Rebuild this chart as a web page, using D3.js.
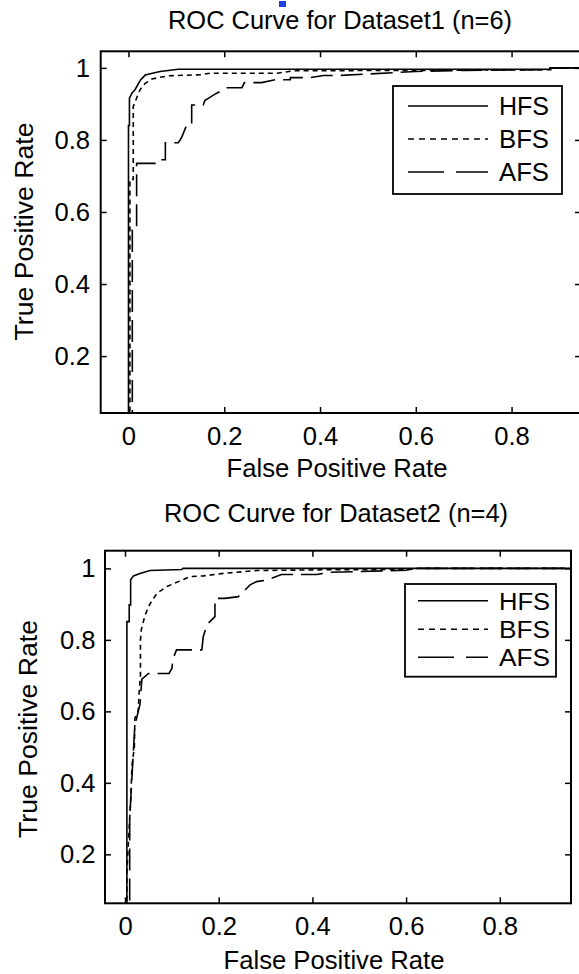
<!DOCTYPE html>
<html>
<head>
<meta charset="utf-8">
<script src="https://cdn.jsdelivr.net/npm/d3@7"></script>
<style>
  html, body { margin: 0; padding: 0; background: #fff; }
  svg { display: block; font-family: "Liberation Sans", Arial, sans-serif; }
</style>
</head>
<body>
<svg id="chart" width="579" height="974"></svg>
<script>
// ---------- data ----------
const seriesNames = ["HFS", "BFS", "AFS"];
const xTickValues = [0, 0.2, 0.4, 0.6, 0.8];
const xTickLabels = ["0", "0.2", "0.4", "0.6", "0.8"];
const yTickValues = [0.2, 0.4, 0.6, 0.8, 1];
const yTickLabels = ["0.2", "0.4", "0.6", "0.8", "1"];
const titles = ["ROC Curve for Dataset1 (n=6)", "ROC Curve for Dataset2 (n=4)"];
const xLabel = "False Positive Rate";
const yLabel = "True Positive Rate";

// Dataset1 (n=6) ROC points [FPR, TPR]
const hfs1 = [[0,0],[0,0.84],[0.002,0.84],[0.002,0.915],[0.007,0.93],[0.014,0.94],[0.021,0.957],[0.026,0.968],[0.035,0.98],[0.05,0.985],[0.066,0.99],[0.104,0.996],[0.88,0.996],[0.88,1],[1,1]];
const bfs1 = [[0,0],[0.003,0],[0.003,0.69],[0.01,0.69],[0.01,0.893],[0.013,0.902],[0.018,0.92],[0.024,0.939],[0.035,0.957],[0.049,0.969],[0.066,0.974],[0.084,0.978],[0.15,0.981],[0.17,0.985],[0.31,0.985],[0.345,0.992],[0.6,0.993],[0.89,0.995],[0.89,1],[1,1]];
const afs1 = [[0,0],[0.008,0],[0.008,0.55],[0.017,0.55],[0.017,0.735],[0.063,0.735],[0.066,0.745],[0.077,0.745],[0.077,0.792],[0.104,0.792],[0.108,0.8],[0.112,0.81],[0.118,0.83],[0.122,0.842],[0.132,0.842],[0.132,0.897],[0.156,0.897],[0.16,0.91],[0.17,0.918],[0.178,0.925],[0.206,0.945],[0.237,0.945],[0.242,0.959],[0.278,0.959],[0.306,0.967],[0.338,0.967],[0.338,0.973],[0.379,0.973],[0.407,0.979],[0.442,0.979],[0.5,0.983],[0.6,0.99],[0.7,0.993],[0.88,0.995],[0.88,1],[1,1]];

// Dataset2 (n=4) ROC points [FPR, TPR]
const hfs2 = [[0,0],[0.004,0],[0.004,0.851],[0.009,0.851],[0.009,0.898],[0.012,0.898],[0.012,0.968],[0.018,0.979],[0.032,0.986],[0.053,0.994],[0.121,0.997],[0.124,1],[1,1]];
const bfs2 = [[0,0],[0.004,0],[0.004,0.15],[0.008,0.25],[0.012,0.35],[0.015,0.45],[0.02,0.5],[0.021,0.58],[0.028,0.6],[0.03,0.65],[0.033,0.7],[0.033,0.8],[0.035,0.83],[0.043,0.87],[0.053,0.9],[0.068,0.93],[0.089,0.949],[0.114,0.963],[0.139,0.977],[0.167,0.979],[0.21,0.986],[0.281,0.994],[0.42,0.996],[0.6,0.997],[0.62,1],[1,1]];
const afs2 = [[0,0],[0.01,0],[0.01,0.3],[0.015,0.42],[0.021,0.56],[0.032,0.62],[0.036,0.69],[0.05,0.706],[0.094,0.706],[0.1,0.72],[0.103,0.749],[0.11,0.772],[0.164,0.772],[0.167,0.809],[0.172,0.83],[0.178,0.847],[0.192,0.865],[0.192,0.916],[0.213,0.916],[0.242,0.921],[0.253,0.935],[0.267,0.954],[0.281,0.963],[0.302,0.967],[0.334,0.983],[0.409,0.983],[0.438,0.989],[0.5,0.991],[0.6,0.995],[0.62,1],[1,1]];

const dataSets = [[hfs1, bfs1, afs1], [hfs2, bfs2, afs2]];

// ---------- layout (positions / styles) ----------
const layouts = [
  { left: 100.7, right: 581, top: 51.3, bottom: 413, xDomain: [-0.058, 0.945], yDomain: [0.042, 1.046],
    titleX: 340, titleY: 28.5, xLabelX: 337, xLabelY: 476.5, yLabelX: 33, yLabelY: 231.5,
    yTickPad: 10.7, xTickBase: 445,
    legend: { x0: 393, x1: 562, y0: 86, y1: 194, rows: [106, 139, 172], lx0: 408, lx1: 488, tx: 499, font: 26, tw: 50 } },
  { left: 105, right: 571, top: 550.7, bottom: 903.3, xDomain: [-0.0427, 0.952], yDomain: [0.063, 1.0495],
    titleX: 336, titleY: 522, xLabelX: 334, xLabelY: 968.5, yLabelX: 37, yLabelY: 729,
    yTickPad: 9.5, xTickBase: 935,
    legend: { x0: 405, x1: 556, y0: 584, y1: 676.7, rows: [600.7, 629.3, 657.3], lx0: 418, lx1: 488, tx: 499, font: 24.5, tw: 51 } }
];
const plotDash = [null, "5,4", "22,8"];
const legendDash = [null, "6,5", "36,12"];
const FONT = 25.6;

const svg = d3.select("#chart");

// small blue marker in the reference picture
svg.append("rect").attr("x", 279).attr("y", 1).attr("width", 7).attr("height", 6).attr("fill", "#1f3fe0");

layouts.forEach((L, pi) => {
  const x = d3.scaleLinear().domain(L.xDomain).range([L.left, L.right]);
  const y = d3.scaleLinear().domain(L.yDomain).range([L.bottom, L.top]);
  const g = svg.append("g");

  const clipId = "clip" + pi;
  svg.append("clipPath").attr("id", clipId).append("rect")
    .attr("x", L.left).attr("y", L.top).attr("width", L.right - L.left).attr("height", L.bottom - L.top);

  // curves
  const line = d3.line().x(d => x(d[0])).y(d => y(d[1]));
  dataSets[pi].forEach((s, si) => {
    g.append("path").datum(s)
      .attr("clip-path", `url(#${clipId})`)
      .attr("d", line)
      .attr("fill", "none").attr("stroke", "#000").attr("stroke-width", 1.6)
      .attr("stroke-dasharray", plotDash[si]);
  });

  // axes (inward ticks on all four sides)
  const xb = g.append("g").attr("transform", `translate(0,${L.bottom})`)
    .call(d3.axisBottom(x).tickValues(xTickValues).tickSizeInner(-6).tickSizeOuter(0)
      .tickPadding(L.xTickBase - L.bottom - 0.71 * FONT).tickFormat((d, i) => xTickLabels[i]));
  const xt = g.append("g").attr("transform", `translate(0,${L.top})`)
    .call(d3.axisTop(x).tickValues(xTickValues).tickSizeInner(-6).tickSizeOuter(0).tickFormat(""));
  const yl = g.append("g").attr("transform", `translate(${L.left},0)`)
    .call(d3.axisLeft(y).tickValues(yTickValues).tickSizeInner(-6).tickSizeOuter(0)
      .tickPadding(L.yTickPad).tickFormat((d, i) => yTickLabels[i]));
  const yr = g.append("g").attr("transform", `translate(${L.right},0)`)
    .call(d3.axisRight(y).tickValues(yTickValues).tickSizeInner(-6).tickSizeOuter(0).tickFormat(""));
  [xb, xt, yl, yr].forEach(a => {
    a.select(".domain").remove();
    a.selectAll("line").attr("stroke", "#000").attr("stroke-width", 1.5);
    a.selectAll("text").attr("fill", "#000").style("font-size", FONT + "px")
      .style("font-family", '"Liberation Sans", Arial, sans-serif');
  });

  // frame
  g.append("rect").attr("x", L.left).attr("y", L.top)
    .attr("width", L.right - L.left).attr("height", L.bottom - L.top)
    .attr("fill", "none").attr("stroke", "#000").attr("stroke-width", 2);

  // title and axis labels
  g.append("text").attr("x", L.titleX).attr("y", L.titleY).attr("text-anchor", "middle")
    .style("font-size", FONT + "px").attr("textLength", 344).attr("lengthAdjust", "spacingAndGlyphs")
    .text(titles[pi]);
  g.append("text").attr("x", L.xLabelX).attr("y", L.xLabelY).attr("text-anchor", "middle")
    .style("font-size", FONT + "px").attr("textLength", 221).attr("lengthAdjust", "spacingAndGlyphs")
    .text(xLabel);
  g.append("text").attr("transform", `translate(${L.yLabelX},${L.yLabelY}) rotate(-90)`)
    .attr("text-anchor", "middle").style("font-size", FONT + "px")
    .attr("textLength", 218).attr("lengthAdjust", "spacingAndGlyphs")
    .text(yLabel);

  // legend
  const lg = L.legend;
  g.append("rect").attr("x", lg.x0).attr("y", lg.y0).attr("width", lg.x1 - lg.x0).attr("height", lg.y1 - lg.y0)
    .attr("fill", "#fff").attr("stroke", "#000").attr("stroke-width", 1.8);
  seriesNames.forEach((name, si) => {
    const ry = lg.rows[si];
    g.append("line").attr("x1", lg.lx0).attr("x2", lg.lx1).attr("y1", ry).attr("y2", ry)
      .attr("stroke", "#000").attr("stroke-width", 1.6).attr("stroke-dasharray", legendDash[si]);
    g.append("text").attr("x", lg.tx).attr("y", ry + 0.36 * lg.font)
      .style("font-size", lg.font + "px").attr("textLength", lg.tw).attr("lengthAdjust", "spacingAndGlyphs")
      .text(name);
  });
});
</script>
</body>
</html>
